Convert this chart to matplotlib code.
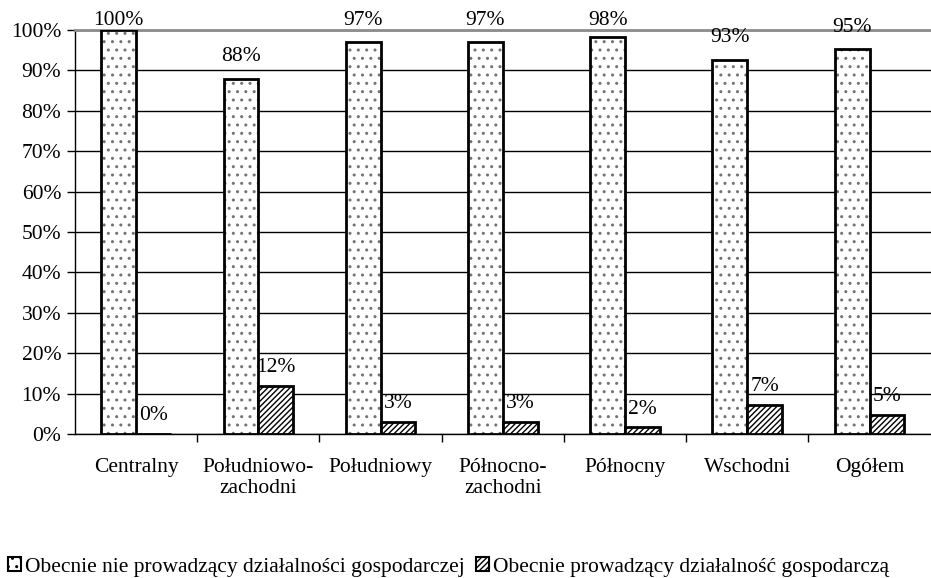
import numpy as np
import matplotlib.pyplot as plt
from matplotlib.patches import Patch
from matplotlib.ticker import FuncFormatter, FixedLocator

plt.rcParams['font.family'] = ['Liberation Serif', 'DejaVu Serif']
plt.rcParams['font.size'] = 15.5
plt.rcParams['hatch.linewidth'] = 1.0

categories = ["Centralny", "Południowo-\nzachodni", "Południowy", "Północno-\nzachodni",
              "Północny", "Wschodni", "Ogółem"]
nie_prowadzacy = [100, 88, 97, 97, 98.3, 92.7, 95.2]
prowadzacy     = [0, 12, 3, 3, 1.7, 7.3, 4.8]
series_names = ["Obecnie nie prowadzący działalności gospodarczej",
                "Obecnie prowadzący działalność gospodarczą"]

fig = plt.figure(figsize=(9.31, 5.78), dpi=100)
ax = fig.add_axes([0.0806, 0.249, 0.919, 0.699])

x = np.arange(len(categories))
w = 0.285

b1 = ax.bar(x - w / 2, nie_prowadzacy, w, facecolor="white", edgecolor="black",
            linewidth=2, hatch="..", zorder=3)
for p in b1:
    p._hatch_color = (0.45, 0.45, 0.45, 1)
b2 = ax.bar(x + w / 2, prowadzacy, w, facecolor="white", edgecolor="black",
            linewidth=2, hatch="//////", zorder=3)

# data labels
for xi, v in zip(x, nie_prowadzacy):
    ax.text(xi - w / 2, min(v + 5.5, 102.3), f"{v:.0f}%", ha="center", va="center", zorder=4)
for xi, v in zip(x, prowadzacy):
    ax.text(xi + w / 2, v + 4.5, f"{v:.0f}%", ha="center", va="center", zorder=4)

ax.set_xlim(-0.5, len(categories) - 0.5)
ax.set_ylim(0, 100)
ax.set_yticks(np.arange(0, 101, 10))
ax.yaxis.set_major_formatter(FuncFormatter(lambda v, _: f"{v:.0f}%"))
ax.yaxis.grid(True, color="black", linewidth=1)
ax.set_axisbelow(True)

ax.set_xticks(x)
ax.set_xticklabels(categories)
ax.tick_params(axis="x", length=0, pad=17)
ax.xaxis.set_minor_locator(FixedLocator(np.arange(0.5, len(categories) - 0.5, 1)))
ax.tick_params(axis="x", which="minor", length=6, width=1, direction="out")
ax.tick_params(axis="y", length=6, width=1, direction="out", pad=4)

ax.spines["right"].set_visible(False)
ax.spines["top"].set_color("#8c8c8c")
ax.spines["top"].set_linewidth(2)
ax.spines["left"].set_linewidth(1)
ax.spines["bottom"].set_linewidth(1)

handles = [Patch(facecolor="white", edgecolor="black", hatch="..", linewidth=1.5),
           Patch(facecolor="white", edgecolor="black", hatch="//////", linewidth=1.5)]
fig.legend(handles, series_names, loc="center left", bbox_to_anchor=(-0.003, 0.019),
           ncol=2, frameon=False, handlelength=0.6, handleheight=0.6,
           handletextpad=0.2, columnspacing=0.5, borderpad=0)

fig.savefig("out.png", dpi=100)
